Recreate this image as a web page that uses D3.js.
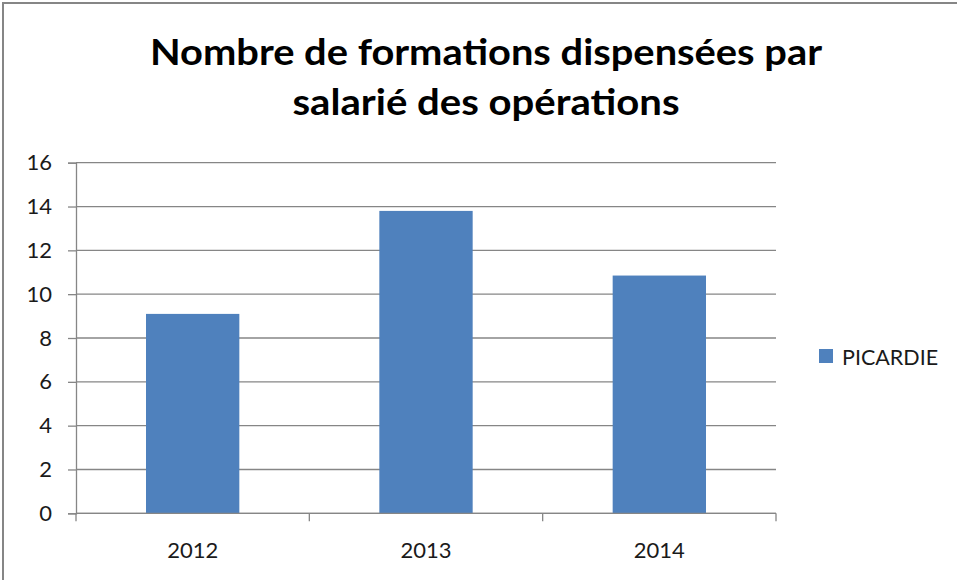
<!DOCTYPE html>
<html>
<head>
<meta charset="utf-8">
<script src="https://cdn.jsdelivr.net/npm/d3@7"></script>
<style>
  html, body { margin: 0; padding: 0; background: #fff; }
  svg { display: block; }
</style>
</head>
<body>
<svg id="chart"></svg>
<script>
// Données
const annees   = ["2012", "2013", "2014"];
const picardie = [9.1, 13.8, 10.85];
const yTicks   = [0, 2, 4, 6, 8, 10, 12, 14, 16];
const serie    = "PICARDIE";
const titre    = ["Nombre de formations dispensées par", "salarié des opérations"];

const width = 957, height = 580;
const plot = { left: 76, right: 776, top: 162.7, bottom: 513.3 };
const font = "Lato, 'Open Sans', sans-serif";

const svg = d3.select("#chart")
  .attr("width", width)
  .attr("height", height)
  .style("font-family", font);

// Cadre du graphique
svg.append("rect")
  .attr("x", 3).attr("y", 3)
  .attr("width", 970).attr("height", 600)
  .attr("fill", "#fff")
  .attr("stroke", "#868686")
  .attr("stroke-width", 2);

// Titre
svg.selectAll("text.titre")
  .data(titre)
  .join("text")
  .attr("class", "titre")
  .attr("x", 486)
  .attr("y", (d, i) => 65 + i * 49.5)
  .attr("text-anchor", "middle")
  .attr("font-size", "35.5px")
  .attr("font-weight", "700")
  .attr("fill", "#000")
  .attr("textLength", (d, i) => i === 0 ? 672 : 387)
  .attr("lengthAdjust", "spacingAndGlyphs")
  .text(d => d);

const x = d3.scaleBand()
  .domain(annees)
  .range([plot.left, plot.right])
  .paddingInner(0.6)
  .paddingOuter(0.3);

const y = d3.scaleLinear()
  .domain([0, 16])
  .range([plot.bottom, plot.top]);

// Quadrillage horizontal
svg.append("g")
  .selectAll("line")
  .data(yTicks)
  .join("line")
  .attr("x1", plot.left).attr("x2", plot.right)
  .attr("y1", d => y(d)).attr("y2", d => y(d))
  .attr("stroke", "#868686")
  .attr("stroke-width", 1.3);

// Axe Y
const yAxis = svg.append("g")
  .attr("transform", `translate(${plot.left},0)`)
  .call(d3.axisLeft(y).tickValues(yTicks).tickSize(8).tickPadding(16).tickFormat(d3.format("d")));
yAxis.select(".domain").attr("stroke", "#868686").attr("stroke-width", 1.3);
yAxis.selectAll(".tick line").attr("stroke", "#868686").attr("stroke-width", 1.3);
yAxis.selectAll(".tick text")
  .attr("font-family", font)
  .attr("font-size", "22px")
  .attr("fill", "#1a1a1a");

// Barres
svg.append("g")
  .selectAll("rect")
  .data(annees.map((a, i) => ({ annee: a, valeur: picardie[i] })))
  .join("rect")
  .attr("x", d => x(d.annee))
  .attr("y", d => y(d.valeur))
  .attr("width", x.bandwidth())
  .attr("height", d => y(0) - y(d.valeur))
  .attr("fill", "#4f81bd");

// Axe X : ligne de base, graduations entre catégories
const bornes = d3.range(annees.length + 1).map(i => plot.left + i * (plot.right - plot.left) / annees.length);
const xAxis = svg.append("g");
xAxis.append("line")
  .attr("x1", plot.left).attr("x2", plot.right)
  .attr("y1", y(0)).attr("y2", y(0))
  .attr("stroke", "#868686")
  .attr("stroke-width", 1.3);
xAxis.selectAll("line.tick")
  .data(bornes)
  .join("line")
  .attr("class", "tick")
  .attr("x1", d => d).attr("x2", d => d)
  .attr("y1", y(0)).attr("y2", y(0) + 8)
  .attr("stroke", "#868686")
  .attr("stroke-width", 1.3);
xAxis.selectAll("text")
  .data(annees)
  .join("text")
  .attr("x", d => x(d) + x.bandwidth() / 2)
  .attr("y", 558)
  .attr("text-anchor", "middle")
  .attr("font-size", "22px")
  .attr("fill", "#1a1a1a")
  .text(d => d);

// Légende
const legende = svg.append("g").attr("transform", "translate(819,349)");
legende.append("rect")
  .attr("width", 14).attr("height", 14)
  .attr("fill", "#4f81bd");
legende.append("text")
  .attr("x", 23).attr("y", 15.5)
  .attr("font-size", "21.5px")
  .attr("fill", "#1a1a1a")
  .text(serie);
</script>
</body>
</html>
